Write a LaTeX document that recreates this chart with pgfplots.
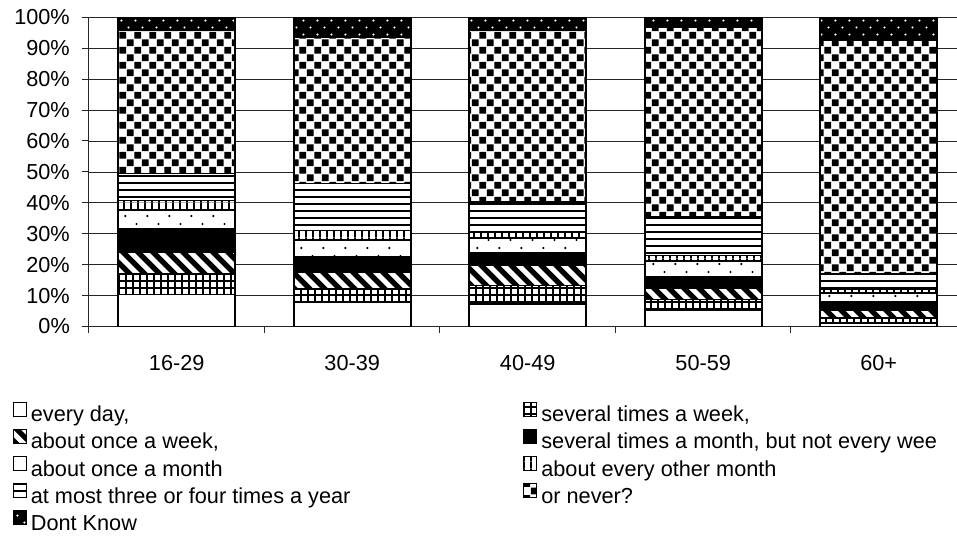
\documentclass[border=0pt]{standalone}
\usepackage{fontspec}
\setmainfont{Liberation Sans}
\usepackage{pgfplots}
\pgfplotsset{compat=1.18}
\usepackage{pgfplotstable}
\usetikzlibrary{patterns}

% --- patterns (opaque, white background) ---
\pgfdeclarepatterninherentlycolored{pgrid}{\pgfpointorigin}{\pgfpoint{7pt}{7pt}}{\pgfpoint{7pt}{7pt}}{%
  \pgfsetfillcolor{white}\pgfpathrectangle{\pgfpointorigin}{\pgfpoint{7pt}{7pt}}\pgfusepath{fill}%
  \pgfsetfillcolor{black}%
  \pgfpathrectangle{\pgfpointorigin}{\pgfpoint{7pt}{1.8pt}}%
  \pgfpathrectangle{\pgfpointorigin}{\pgfpoint{1.8pt}{7pt}}%
  \pgfusepath{fill}}
\pgfdeclarepatterninherentlycolored{pdiag}{\pgfpointorigin}{\pgfpoint{15pt}{15pt}}{\pgfpoint{15pt}{15pt}}{%
  \pgfsetfillcolor{white}\pgfpathrectangle{\pgfpointorigin}{\pgfpoint{15pt}{15pt}}\pgfusepath{fill}%
  \pgfsetstrokecolor{black}\pgfsetlinewidth{5.3pt}%
  \pgfpathmoveto{\pgfpoint{-2pt}{17pt}}\pgfpathlineto{\pgfpoint{17pt}{-2pt}}%
  \pgfpathmoveto{\pgfpoint{-2pt}{2pt}}\pgfpathlineto{\pgfpoint{2pt}{-2pt}}%
  \pgfpathmoveto{\pgfpoint{13pt}{17pt}}\pgfpathlineto{\pgfpoint{17pt}{13pt}}%
  \pgfusepath{stroke}}
\pgfdeclarepatterninherentlycolored{pdots}{\pgfpointorigin}{\pgfpoint{22pt}{16pt}}{\pgfpoint{22pt}{16pt}}{%
  \pgfsetfillcolor{white}\pgfpathrectangle{\pgfpointorigin}{\pgfpoint{22pt}{16pt}}\pgfusepath{fill}%
  \pgfsetfillcolor{black}%
  \pgfpathcircle{\pgfpoint{5.5pt}{4pt}}{1.2pt}%
  \pgfpathcircle{\pgfpoint{16.5pt}{12pt}}{1.2pt}%
  \pgfusepath{fill}}
\pgfdeclarepatterninherentlycolored{pvert}{\pgfpointorigin}{\pgfpoint{7.3pt}{7.3pt}}{\pgfpoint{7.3pt}{7.3pt}}{%
  \pgfsetfillcolor{white}\pgfpathrectangle{\pgfpointorigin}{\pgfpoint{7.3pt}{7.3pt}}\pgfusepath{fill}%
  \pgfsetfillcolor{black}%
  \pgfpathrectangle{\pgfpointorigin}{\pgfpoint{2pt}{7.3pt}}%
  \pgfusepath{fill}}
\pgfdeclarepatterninherentlycolored{phoriz}{\pgfpointorigin}{\pgfpoint{7pt}{7pt}}{\pgfpoint{7pt}{7pt}}{%
  \pgfsetfillcolor{white}\pgfpathrectangle{\pgfpointorigin}{\pgfpoint{7pt}{7pt}}\pgfusepath{fill}%
  \pgfsetfillcolor{black}%
  \pgfpathrectangle{\pgfpointorigin}{\pgfpoint{7pt}{2pt}}%
  \pgfusepath{fill}}
\pgfdeclarepatterninherentlycolored{pcheck}{\pgfpointorigin}{\pgfpoint{15pt}{15pt}}{\pgfpoint{15pt}{15pt}}{%
  \pgfsetfillcolor{white}\pgfpathrectangle{\pgfpointorigin}{\pgfpoint{15pt}{15pt}}\pgfusepath{fill}%
  \pgfsetfillcolor{black}%
  \pgfpathrectangle{\pgfpoint{0.35pt}{0.35pt}}{\pgfpoint{6.8pt}{6.8pt}}%
  \pgfpathrectangle{\pgfpoint{7.85pt}{7.85pt}}{\pgfpoint{6.8pt}{6.8pt}}%
  \pgfusepath{fill}}
\pgfdeclarepatterninherentlycolored{pdk}{\pgfpointorigin}{\pgfpoint{14pt}{14pt}}{\pgfpoint{14pt}{14pt}}{%
  \pgfsetfillcolor{black}\pgfpathrectangle{\pgfpointorigin}{\pgfpoint{14pt}{14pt}}\pgfusepath{fill}%
  \pgfsetfillcolor{white}%
  \pgfpathcircle{\pgfpoint{3.5pt}{3.5pt}}{1.2pt}%
  \pgfpathcircle{\pgfpoint{10.5pt}{10.5pt}}{1.2pt}%
  \pgfusepath{fill}}

\pgfplotstableread{
x c1 c2 c3 c4 c5 c6 c7 c8 c9
0 10.4 6.7 7.0 7.5 6.0 3.2 8.7 46.2 4.3
1 7.9 4.3 5.4 5.1 5.2 3.2 15.1 47.3 6.5
2 7.3 6.0 6.5 4.1 4.8 1.9 9.7 55.6 4.1
3 5.2 3.5 3.8 3.5 5.2 1.7 12.5 61.4 3.2
4 1.1 1.6 2.6 2.6 2.9 1.4 5.0 75.5 7.3
}\datatable

\pgfplotsset{
  seg/.style={draw=black, line width=1.6bp,
    legend image code/.code={\draw[##1, line width=0.9bp] (0bp,0bp) rectangle (13bp,14bp);}},
}

\begin{document}
\fontsize{21.7bp}{26bp}\selectfont
\begin{tikzpicture}
\begin{axis}[
  scale only axis, width=868bp, height=309.2bp,
  ybar stacked, bar width=117bp,
  xmin=-0.5, xmax=4.446, ymin=0, ymax=100,
  axis x line*=bottom, axis y line*=left,
  axis line style={black!85, line width=1bp},
  ymajorgrids, grid style={black!85, line width=0.8bp},
  ytick={0,10,...,100},
  yticklabels={0\%,10\%,20\%,30\%,40\%,50\%,60\%,70\%,80\%,90\%,100\%},
  xtick={0,1,2,3,4},
  xticklabels={16-29,30-39,40-49,50-59,60+},
  minor xtick={-0.5,0.5,1.5,2.5,3.5},
  tick align=outside,
  major x tick style={draw=none},
  minor x tick style={black!85, line width=1bp},
  major y tick style={black!85, line width=1bp},
  minor tick length=6bp, major tick length=7bp,
  xticklabel style={inner sep=0pt, anchor=north, yshift=-22bp},
  yticklabel style={inner sep=0pt, anchor=east, xshift=-12bp},
  /pgf/number format/assume math mode=true,
  legend columns=2,
  legend cell align=left,
  legend style={
    at={(-0.0876,-0.2437)}, anchor=north west,
    draw=none, fill=none, inner sep=0pt, outer sep=0pt,
    row sep=2.2bp,
    nodes={inner sep=0pt, text height=16bp, text depth=5bp},
    /tikz/every odd column/.append style={column sep=4bp},
    /tikz/every even column/.append style={column sep=173bp},
  },
]
\addplot[seg, fill=white] table[x=x, y=c1] {\datatable};
\addlegendentry{every day,}
\addplot[seg, pattern=pgrid] table[x=x, y=c2] {\datatable};
\addlegendentry{several times a week,}
\addplot[seg, pattern=pdiag] table[x=x, y=c3] {\datatable};
\addlegendentry{about once a week,}
\addplot[seg, fill=black] table[x=x, y=c4] {\datatable};
\addlegendentry{several times a month, but not every wee}
\addplot[seg, pattern=pdots] table[x=x, y=c5] {\datatable};
\addlegendentry{about once a month}
\addplot[seg, pattern=pvert] table[x=x, y=c6] {\datatable};
\addlegendentry{about every other month}
\addplot[seg, pattern=phoriz] table[x=x, y=c7] {\datatable};
\addlegendentry{at most three or four times a year}
\addplot[seg, pattern=pcheck] table[x=x, y=c8] {\datatable};
\addlegendentry{or never?}
\addplot[seg, pattern=pdk] table[x=x, y=c9] {\datatable};
\addlegendentry{Dont Know}
\end{axis}
\pgfresetboundingbox
\path (-89bp,-220.5bp) rectangle (868bp,326.5bp);
\end{tikzpicture}
\end{document}
